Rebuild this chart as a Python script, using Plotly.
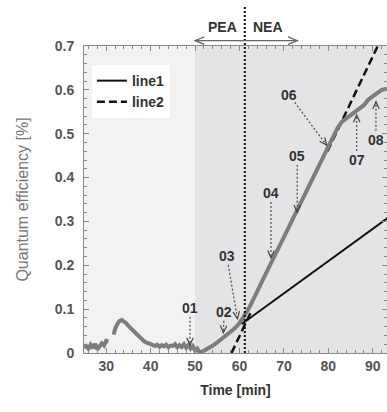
import math
import plotly.graph_objects as go

# ---------------- data ----------------
time_min = [25, 25.5, 26, 26.5, 27, 27.5, 28, 28.5, 29, 29.5, 30, 30.5,
            None,
            31.7, 32, 32.5, 33, 33.5, 34, 34.5, 35, 35.5, 36, 36.5, 37, 37.5, 38, 38.5,
            39, 39.5, 40, 40.5, 41, 41.5, 42, 42.5, 43, 43.5, 44, 44.5, 45, 45.5, 46,
            46.5, 47, 47.5, 48, 48.5, 49, 49.5, 50, 50.5, 51, 52, 53, 54, 55, 56, 57,
            58, 59, 60, 61, 62, 63, 64, 65, 66, 67, 68, 69, 70, 71, 72, 73, 74, 75,
            76, 77, 78, 79, 80, 81, 82, 83, 84, 85, 86, 87, 88, 89, 90, 91, 92, 93, 93.5]
qe_data = [0.012, 0.016, 0.010, 0.019, 0.011, 0.021, 0.008, 0.016, 0.022, 0.017, 0.028, 0.026,
           None,
           0.042, 0.055, 0.066, 0.073, 0.075, 0.072, 0.068, 0.062, 0.057, 0.051, 0.046, 0.040,
           0.035, 0.031, 0.027, 0.024, 0.021, 0.020, 0.018, 0.016, 0.019, 0.014, 0.018,
           0.015, 0.019, 0.013, 0.017, 0.016, 0.020, 0.013, 0.018, 0.014, 0.020, 0.012,
           0.018, 0.010, 0.016, 0.006, 0.010, 0.001, 0.005, 0.010, 0.017, 0.024, 0.032,
           0.040, 0.049, 0.057, 0.068, 0.083, 0.100, 0.120, 0.142, 0.163, 0.183, 0.203,
           0.223, 0.244, 0.264, 0.284, 0.304, 0.325, 0.346, 0.367, 0.388, 0.409, 0.430,
           0.452, 0.474, 0.495, 0.512, 0.527, 0.535, 0.543, 0.550, 0.558, 0.565, 0.578,
           0.585, 0.592, 0.600, 0.602, 0.603]

line1_t = [60.5, 95.0]
line1_v = [0.066, 0.320]
line2_t = [58.2, 62.6, None, 79.8, 91.5]
line2_v = [0.0, 0.094, None, 0.460, 0.708]

label_text = ["01", "02", "03", "04", "05", "06", "07", "08"]
label_t = [48.86, 56.58, 57.12, 67.09, 73.0, 71.2, 86.38, 90.72]
label_v = [0.103, 0.094, 0.221, 0.365, 0.450, 0.588, 0.440, 0.486]
tip_t = [48.86, 56.35, 59.55, 67.09, 73.0, 79.6, 86.38, 90.72]
tip_v = [0.018, 0.046, 0.078, 0.217, 0.321, 0.474, 0.543, 0.573]

x_ticks = [30, 40, 50, 60, 70, 80, 90]
y_ticks = [0, 0.1, 0.2, 0.3, 0.4, 0.5, 0.6, 0.7]

# ---------------- layout constants ----------------
W, H = 387, 412
ML, MT, MB, MR = 84, 46, 59, 0
PW = W - ML - MR
PH = H - MT - MB
XR = [25, 93.2]
YR = [0, 0.7]
XPX = PW / (XR[1] - XR[0])
YPX = PH / (YR[1] - YR[0])
PLOT_BOTTOM = MT + PH
FONT = "Arial, Liberation Sans, sans-serif"


def paper_y(screen_y):
    return (PLOT_BOTTOM - screen_y) / PH


fig = go.Figure()

fig.add_trace(go.Scatter(x=line2_t, y=line2_v, mode="lines", name="line2",
                         line=dict(color="#111111", width=2.5, dash="8px,4px")))
fig.add_trace(go.Scatter(x=time_min, y=qe_data, mode="lines", showlegend=False,
                         line=dict(color="#7d7d7d", width=4), connectgaps=False))
fig.add_trace(go.Scatter(x=line1_t, y=line1_v, mode="lines", name="line1",
                         line=dict(color="#111111", width=2)))

shapes = []
shapes.append(dict(type="rect", xref="x", yref="paper", x0=50, x1=100, y0=0, y1=1,
                   fillcolor="#e4e4e6", line=dict(width=0), layer="below"))
shapes.append(dict(type="line", xref="x", yref="paper", x0=61.2, x1=61.2, y0=0,
                   y1=paper_y(5), line=dict(color="#111111", width=2, dash="2px,2px")))


def vhead(tx, ty, sx, sy, ysc, L=8, ang=24):
    dx = (tx - sx) * XPX
    dy = (ty - sy) * ysc
    n = math.hypot(dx, dy)
    ux, uy = dx / n, dy / n
    pts = []
    for s in (1, -1):
        a = math.radians(ang) * s
        rx = ux * math.cos(a) - uy * math.sin(a)
        ry = ux * math.sin(a) + uy * math.cos(a)
        pts.append((tx - L * rx / XPX, ty - L * ry / ysc))
    return "M{},{} L{},{} L{},{}".format(pts[0][0], pts[0][1], tx, ty, pts[1][0], pts[1][1])


annotations = []
for lab, lt, lv, pt, pv in zip(label_text, label_t, label_v, tip_t, tip_v):
    dx = (pt - lt) * XPX
    dy = (pv - lv) * YPX
    n = math.hypot(dx, dy)
    off = 9
    sx = lt + off * dx / n / XPX
    sy = lv + off * dy / n / YPX
    shapes.append(dict(type="line", xref="x", yref="y", x0=sx, y0=sy, x1=pt, y1=pv,
                       line=dict(color="#555555", width=1.3, dash="2px,2px")))
    shapes.append(dict(type="path", xref="x", yref="y", path=vhead(pt, pv, lt, lv, YPX),
                       line=dict(color="#444444", width=1.2)))
    annotations.append(dict(x=lt, y=lv, xref="x", yref="y", text="<b>%s</b>" % lab,
                            showarrow=False, xanchor="center", yanchor="middle",
                            font=dict(family=FONT, size=14, color="#333333")))

# PEA / NEA arrow above the plot
pea_x0, pea_x1 = 50.0, 73.0
pea_y = paper_y(40.7)
shapes.append(dict(type="line", xref="x", yref="paper", x0=pea_x0, x1=pea_x1, y0=pea_y, y1=pea_y,
                   line=dict(color="#666666", width=1.3)))
shapes.append(dict(type="path", xref="x", yref="paper",
                   path=vhead(pea_x1, pea_y, pea_x0, pea_y, PH, L=10, ang=22),
                   line=dict(color="#666666", width=1.3)))
shapes.append(dict(type="path", xref="x", yref="paper",
                   path=vhead(pea_x0, pea_y, pea_x1, pea_y, PH, L=10, ang=22),
                   line=dict(color="#666666", width=1.3)))
for txt, tx in (("PEA", 56.2), ("NEA", 66.4)):
    annotations.append(dict(x=tx, y=paper_y(27), xref="x", yref="paper",
                            text="<b>%s</b>" % txt, showarrow=False,
                            xanchor="center", yanchor="middle",
                            font=dict(family=FONT, size=14, color="#333333")))

axis_common = dict(showgrid=False, zeroline=False, showline=True, linecolor="#8a8a8a",
                   linewidth=1, ticks="inside", ticklen=5, tickcolor="#8a8a8a",
                   mirror="ticks",
                   tickfont=dict(family=FONT, size=14, color="#555555", weight="bold"))

fig.update_layout(
    width=W, height=H,
    margin=dict(l=ML, r=MR, t=MT, b=MB),
    paper_bgcolor="white", plot_bgcolor="#f2f2f2",
    shapes=shapes, annotations=annotations,
    legend=dict(x=0.026, y=0.938, xanchor="left", yanchor="top", bgcolor="white",
                font=dict(family=FONT, size=14, color="#333333", weight="bold"),
                traceorder="reversed", tracegroupgap=0),
    xaxis=dict(range=XR, tickvals=x_ticks, ticktext=[str(v) for v in x_ticks],
               minor=dict(dtick=2, ticks="inside", ticklen=3, tickcolor="#8a8a8a"),
               ticklabelstandoff=0,
               title=dict(text="<b>Time [min]</b>", standoff=12,
                          font=dict(family=FONT, size=14, color="#333333")),
               **axis_common),
    yaxis=dict(range=YR, tickvals=y_ticks, ticktext=["0" if v == 0 else "%.1f" % v for v in y_ticks],
               minor=dict(dtick=0.02, ticks="inside", ticklen=3, tickcolor="#8a8a8a"),
               ticklabelstandoff=6,
               title=dict(text="Quantum efficiency [%]", standoff=22,
                          font=dict(family=FONT, size=16, color="#777777")),
               **axis_common),
    showlegend=True,
)

fig.write_html("out.html", config={"displayModeBar": False},
               post_script="document.body.style.margin='0';document.body.style.overflow='hidden';")
